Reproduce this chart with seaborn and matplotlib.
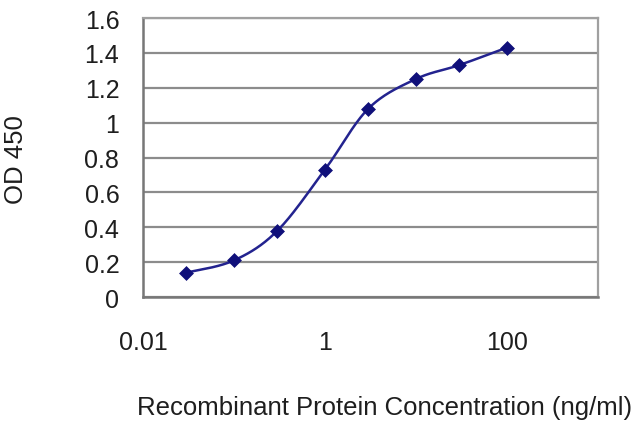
import numpy as np
import matplotlib
matplotlib.use("Agg")
import matplotlib.pyplot as plt
import seaborn as sns

# --- data ---
concentration = [0.03, 0.1, 0.3, 1, 3, 10, 30, 100]
od450 = [0.14, 0.21, 0.38, 0.73, 1.08, 1.25, 1.33, 1.43]

x_ticks = [0.01, 1, 100]
x_tick_labels = ["0.01", "1", "100"]
y_ticks = [0, 0.2, 0.4, 0.6, 0.8, 1.0, 1.2, 1.4, 1.6]
y_tick_labels = ["0", "0.2", "0.4", "0.6", "0.8", "1", "1.2", "1.4", "1.6"]

LINE_COLOR = "#23238f"
MARKER_COLOR = "#10107a"
GRID_COLOR = "#8c8c8c"
TEXT_COLOR = "#1e1e1e"


def smooth_curve(xs, ys, steps=30):
    """Catmull-Rom style smoothing (like a spreadsheet 'smoothed line') in log-x space."""
    lx = np.log10(xs)
    ys = np.asarray(ys, dtype=float)
    pts = np.column_stack([lx, ys])
    n = len(pts)
    out = [pts[0]]
    for i in range(n - 1):
        p0 = pts[max(i - 1, 0)]
        p1 = pts[i]
        p2 = pts[i + 1]
        p3 = pts[min(i + 2, n - 1)]
        c1 = p1 + (p2 - p0) / 6.0
        c2 = p2 - (p3 - p1) / 6.0
        t = np.linspace(0, 1, steps)[1:, None]
        seg = ((1 - t) ** 3) * p1 + 3 * ((1 - t) ** 2) * t * c1 \
            + 3 * (1 - t) * t ** 2 * c2 + t ** 3 * p2
        out.extend(seg)
    out = np.array(out)
    return 10 ** out[:, 0], out[:, 1]


sns.set_style("white")
plt.rcParams["font.family"] = ["Liberation Sans", "DejaVu Sans"]

fig = plt.figure(figsize=(6.4, 4.27), dpi=100)
ax = fig.add_axes([0.2234, 0.302, 0.7106, 0.6535])

cx, cy = smooth_curve(concentration, od450)
ax.plot(cx, cy, color=LINE_COLOR, lw=1.8, zorder=3)
sns.scatterplot(x=concentration, y=od450, marker="D", s=50, color=MARKER_COLOR,
                edgecolor=MARKER_COLOR, linewidth=0.5, ax=ax, zorder=4)

ax.set_xscale("log")
ax.set_xlim(0.01, 1000)
ax.set_ylim(0, 1.6)

ax.set_xticks(x_ticks)
ax.set_xticklabels(x_tick_labels)
ax.xaxis.set_minor_locator(matplotlib.ticker.NullLocator())
ax.set_yticks(y_ticks)
ax.set_yticklabels(y_tick_labels)

ax.yaxis.grid(True, color=GRID_COLOR, lw=1.6)
ax.set_axisbelow(True)

for side in ["top", "right"]:
    ax.spines[side].set_color("#a0a0a0")
    ax.spines[side].set_linewidth(1.6)
for side in ["left", "bottom"]:
    ax.spines[side].set_color("#777777")
    ax.spines[side].set_linewidth(1.8)

ax.tick_params(axis="x", direction="in", length=4, width=1.2, color="#777777",
               pad=24, labelsize=18, labelcolor=TEXT_COLOR)
ax.tick_params(axis="y", length=0, pad=17, labelsize=18, labelcolor=TEXT_COLOR)

ax.set_xlabel("Recombinant Protein Concentration (ng/ml)", fontsize=18.5,
              color=TEXT_COLOR)
ax.xaxis.set_label_coords(0.532, -0.35)
ax.set_ylabel("OD 450", fontsize=18.5, color=TEXT_COLOR)
ax.yaxis.set_label_coords(-0.253, 0.495)

fig.savefig("out.png", dpi=100)
